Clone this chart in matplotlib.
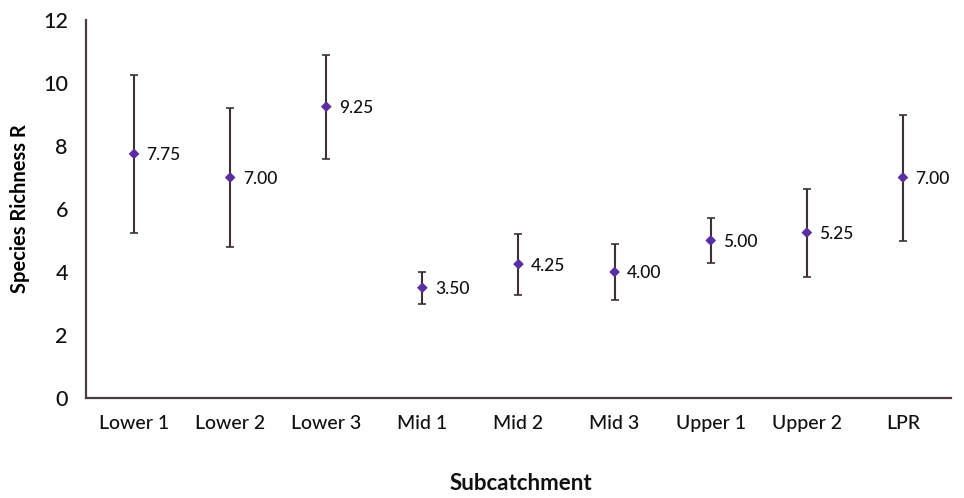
import matplotlib.pyplot as plt
import numpy as np

# species richness per subcatchment (mean +/- error)
subcatchments = ["Lower 1", "Lower 2", "Lower 3", "Mid 1", "Mid 2", "Mid 3",
                 "Upper 1", "Upper 2", "LPR"]
richness_mean = [7.75, 7.00, 9.25, 3.50, 4.25, 4.00, 5.00, 5.25, 7.00]
richness_err = [2.5, 2.2, 1.65, 0.5, 0.97, 0.9, 0.72, 1.4, 2.0]

MARKER = "#5a2fa0"
BAR = "#3a3232"
AXIS = "#4a3f3f"
TEXT = "#111111"

plt.rcParams["font.family"] = ["Lato", "DejaVu Sans"]
plt.rcParams["text.color"] = TEXT

fig = plt.figure(figsize=(9.64, 4.98), dpi=100)
ax = fig.add_axes([0.0892, 0.2008, 0.8973, 0.7590])

x = np.arange(len(subcatchments))
ax.errorbar(x, richness_mean, yerr=richness_err, fmt="none", ecolor=BAR,
            elinewidth=1.5, capsize=3, capthick=1.2, zorder=2)
ax.scatter(x, richness_mean, marker="D", s=30, color=MARKER, zorder=3,
           edgecolors="none")

for xi, val in zip(x, richness_mean):
    ax.annotate(f"{val:.2f}", xy=(xi, val), xytext=(9, -1),
                textcoords="offset points", ha="left", va="center",
                fontsize=12.5, color=TEXT, fontweight="medium")

ax.set_xlim(-0.5, len(subcatchments) - 0.5)
ax.set_ylim(0, 12)
ax.set_yticks(range(0, 13, 2))
ax.set_xticks(x)
ax.set_xticklabels(subcatchments, fontsize=14, fontweight="medium")
for lbl in ax.get_yticklabels():
    lbl.set_fontweight("medium")
ax.tick_params(axis="y", labelsize=15.5, length=0, pad=13, labelcolor=TEXT)
ax.tick_params(axis="x", length=0, pad=12, labelcolor=TEXT)

for spine in ("top", "right"):
    ax.spines[spine].set_visible(False)
for spine in ("left", "bottom"):
    ax.spines[spine].set_color(AXIS)
    ax.spines[spine].set_linewidth(1.6)

ax.set_ylabel("Species Richness R", fontsize=14.5, fontweight="bold", labelpad=9)
fig.text(0.54, 0.03, "Subcatchment", fontsize=16, fontweight="bold",
         ha="center", va="center")

fig.savefig("out.png", dpi=100, facecolor="white")
